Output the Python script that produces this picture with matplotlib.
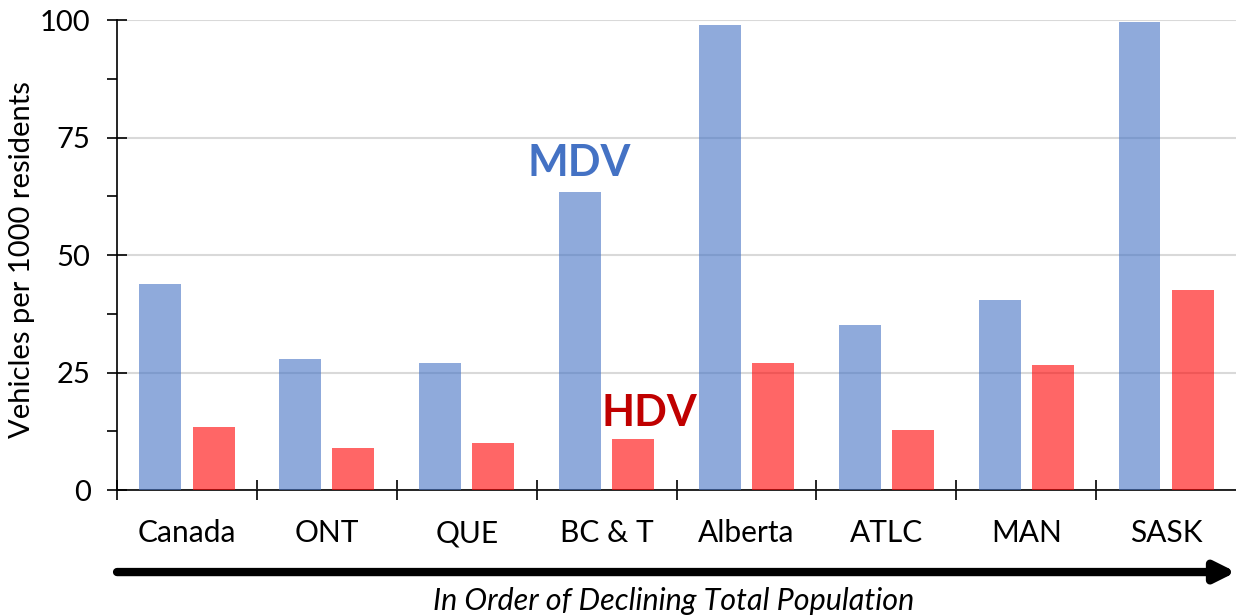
import matplotlib
matplotlib.use('Agg')
import matplotlib.pyplot as plt
import numpy as np

regiones = ['Canada', 'ONT', 'QUE', 'BC & T', 'Alberta', 'ATLC', 'MAN', 'SASK']
mdv = [43.8, 27.9, 27.0, 63.4, 98.9, 35.1, 40.4, 99.5]
hdv = [13.4, 8.9, 10.0, 10.9, 27.0, 12.8, 26.5, 42.5]

plt.rcParams['font.family'] = ['Lato', 'DejaVu Sans']

fig = plt.figure(figsize=(12.36, 6.16), dpi=100)
ax = fig.add_axes([0.0947, 0.2045, 0.9053, 0.763])

x = np.arange(len(regiones))
ax.bar(x - 0.19, mdv, width=0.3, color='#4472C4', alpha=0.6, zorder=3)
ax.bar(x + 0.19, hdv, width=0.3, color='#FF0000', alpha=0.6, zorder=3)

ax.set_xlim(-0.5, len(regiones) - 0.5)
ax.set_ylim(0, 100)
ax.set_yticks([0, 25, 50, 75, 100])
ax.set_yticks([12.5, 37.5, 62.5, 87.5], minor=True)
ax.set_xticks(x)
ax.set_xticklabels(regiones, fontsize=21.5)
ax.set_xticks(np.arange(len(regiones)) - 0.5, minor=True)
ax.tick_params(axis='x', which='major', length=0, pad=21)
ax.tick_params(axis='x', which='minor', direction='inout', length=14, width=1.2)
ax.tick_params(axis='y', which='major', direction='inout', length=14, width=1.2, labelsize=21, pad=12)
ax.tick_params(axis='y', which='minor', direction='out', length=7, width=1.2)
ax.set_ylabel('Vehicles per 1000 residents', fontsize=21)
ax.yaxis.set_label_coords(-0.073, 0.49)

ax.grid(axis='y', color='#D9D9D9', linewidth=1.5, zorder=0)
for s in ['top', 'right']:
    ax.spines[s].set_visible(False)
ax.spines['left'].set_linewidth(1.2)
ax.spines['bottom'].set_linewidth(1.2)

ax.text(2.807, 69.6, 'MDV', color='#4472C4', fontsize=31, fontweight='bold', ha='center', va='center')
ax.text(3.307, 16.4, 'HDV', color='#C00000', fontsize=31, fontweight='bold', ha='center', va='center')

ax.annotate('', xy=(1.0, -0.1745), xytext=(0.0, -0.1745), xycoords='axes fraction',
            arrowprops=dict(arrowstyle='-|>', lw=6, color='black', mutation_scale=30,
                            shrinkA=0, shrinkB=0), annotation_clip=False)
ax.text(0.497, -0.236, 'In Order of Declining Total Population', transform=ax.transAxes,
        fontsize=22, style='italic', ha='center', va='center')

fig.savefig('out.png', dpi=100)
